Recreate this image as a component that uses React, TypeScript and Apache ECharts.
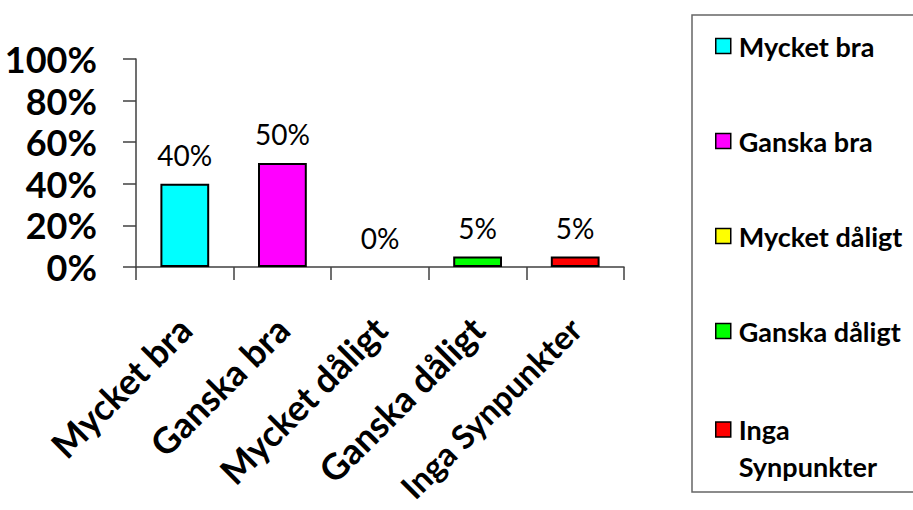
import React, { useEffect, useRef } from "react";
import * as echarts from "echarts";

const categories = ["Mycket bra", "Ganska bra", "Mycket dåligt", "Ganska dåligt", "Inga Synpunkter"];
const values = [40, 50, 0, 5, 5];
const colors = ["#00FFFF", "#FF00FF", "#FFFF00", "#00FF00", "#FF0000"];
const yTicks = { min: 0, max: 100, interval: 20 };

const FONT = "Lato";

export default function App() {
  const ref = useRef<HTMLDivElement>(null);
  useEffect(() => {
    document.body.style.margin = "0";
    const chart = echarts.init(ref.current!, null, { renderer: "svg" });
    const series = categories.map((name, i) => ({
      name,
      type: "bar",
      stack: "all",
      barWidth: "50%",
      data: values.map((v, j) =>
        j === i ? (v === 0 ? { value: v, itemStyle: { borderWidth: 0 } } : v) : "-"
      ),
      itemStyle: { color: colors[i], borderColor: "#000", borderWidth: 2 },
      label: {
        show: true,
        position: "top",
        distance: 15,
        formatter: "{c}%",
        fontFamily: FONT,
        fontSize: 28,
        color: "#000",
      },
    }));
    const legendCommon = {
      orient: "vertical",
      left: 715,
      padding: 0,
      itemWidth: 15,
      itemHeight: 15,
      icon: "rect",
      itemStyle: { borderColor: "#000", borderWidth: 1.5 },
      selectedMode: false,
    };
    chart.setOption({
      animation: false,
      grid: { left: 136, right: 289, top: 59, bottom: 243, containLabel: false, outerBoundsMode: "none" },
      xAxis: {
        type: "category",
        data: categories,
        axisLine: { lineStyle: { color: "#404040", width: 1.5 } },
        axisTick: { show: true, length: 13, lineStyle: { color: "#404040", width: 1.5 } },
        axisLabel: {
          rotate: 45,
          interval: 0,
          margin: 56,
          fontFamily: FONT,
          fontWeight: "bold",
          fontSize: 36,
          lineHeight: 34,
          color: "#000",
          formatter: (v: string) => (v.length > 14 ? `{s|${v}}` : v),
          rich: {
            s: { fontFamily: FONT, fontWeight: "bold", fontSize: 33, lineHeight: 32, color: "#000" },
          },
        },
      },
      yAxis: {
        type: "value",
        min: yTicks.min,
        max: yTicks.max,
        interval: yTicks.interval,
        splitLine: { show: false },
        axisLine: { show: true, lineStyle: { color: "#404040", width: 1.5 } },
        axisTick: { show: true, length: 13, lineStyle: { color: "#404040", width: 1.5 } },
        axisLabel: {
          formatter: "{value}%",
          margin: 39,
          fontFamily: FONT,
          fontWeight: "bold",
          fontSize: 36,
          lineHeight: 36,
          color: "#000",
        },
      },
      legend: [
        {
          ...legendCommon,
          top: 31,
          itemGap: 65,
          data: categories.slice(0, 4),
          textStyle: { fontFamily: FONT, fontWeight: "bold", fontSize: 27, lineHeight: 30, color: "#000", padding: [0, 0, 0, 3] },
        },
        {
          ...legendCommon,
          top: 374,
          data: categories.slice(4),
          formatter: (name: string) => " \n" + name.replace(" ", "\n"),
          textStyle: { fontFamily: FONT, fontWeight: "bold", fontSize: 27, lineHeight: 37, color: "#000", padding: [0, 0, 0, 3] },
        },
      ],
      graphic: [
        {
          type: "rect",
          shape: { x: 692, y: 15, width: 240, height: 477 },
          style: { fill: "none", stroke: "#666", lineWidth: 1.5 },
          silent: true,
        },
      ],
      series,
    });
    return () => chart.dispose();
  }, []);
  return <div ref={ref} style={{ width: 913, height: 510 }} />;
}
